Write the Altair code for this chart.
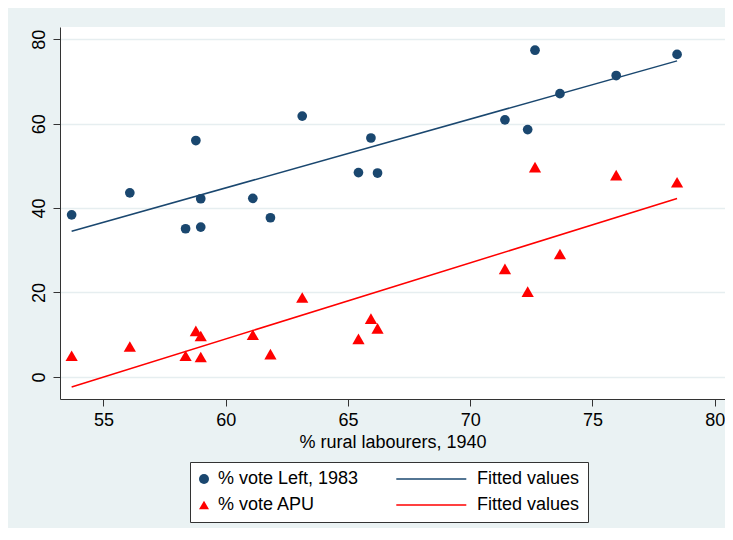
import altair as alt
import pandas as pd

# ---- data ----
rural = [53.70, 56.08, 58.36, 58.78, 58.98, 58.98, 61.11, 61.83, 63.13,
         65.43, 65.94, 66.21, 71.42, 72.35, 72.65, 73.67, 75.97, 78.46]
vote_left = [38.4, 43.6, 35.1, 56.0, 42.2, 35.5, 42.3, 37.7, 61.8,
             48.4, 56.6, 48.3, 60.9, 58.6, 77.4, 67.1, 71.4, 76.4]
vote_apu = [5.0, 7.2, 5.0, 10.9, 9.7, 4.7, 10.0, 5.4, 18.8,
            9.0, 13.8, 11.5, 25.6, 20.2, 49.7, 29.1, 47.8, 46.1]

series_names = ["% vote Left, 1983", "% vote APU"]
fit_names = ["Fitted values (Left)", "Fitted values (APU)"]
legend_order = [series_names[0], series_names[1], fit_names[0], fit_names[1]]

x_ticks = [55, 60, 65, 70, 75, 80]
y_ticks = [0, 20, 40, 60, 80]
x_title = "% rural labourers, 1940"

df = pd.DataFrame({
    "rural": rural + rural,
    "vote": vote_left + vote_apu,
    "series": [series_names[0]] * len(rural) + [series_names[1]] * len(rural),
})

FONT = "Liberation Sans"
NAVY = "#1a476f"
RED = "#ff0000"
BG = "#eaf2f3"
LINE_PATH = "M-13.34,-0.15H0.66V0.15H-13.34Z"

color_scale = alt.Scale(domain=legend_order, range=[NAVY, RED, NAVY, RED])
shape_scale = alt.Scale(domain=legend_order,
                        range=["circle", "triangle-up", LINE_PATH, LINE_PATH])

legend = alt.Legend(
    title=None, orient="none", legendX=130, legendY=435,
    columns=2, columnPadding=37, rowPadding=8, padding=8,
    fillColor="white", strokeColor="#333",
    labelFont=FONT, labelFontSize=18, labelColor="black",
    symbolSize=100, symbolOffset=-3, labelOffset=5, symbolStrokeWidth=0,
    labelExpr="indexof(datum.label, 'Fitted') == 0 ? 'Fitted values\u00a0\u00a0\u00a0' : datum.label",
)

x_enc = alt.X(
    "rural:Q",
    scale=alt.Scale(domain=[53.224, 80.42], nice=False, zero=False),
    axis=alt.Axis(values=x_ticks, title=x_title, grid=False,
                  domainColor="#333", domainWidth=1, tickColor="#333",
                  tickSize=7, tickWidth=1, labelFont=FONT, labelFontSize=18,
                  labelColor="black", labelPadding=5, titleFont=FONT,
                  titleFontSize=18, titleFontWeight="normal",
                  titleColor="black", titlePadding=4),
)
y_enc = alt.Y(
    "vote:Q",
    scale=alt.Scale(domain=[-5.24, 82.9], nice=False, zero=False),
    axis=alt.Axis(values=y_ticks, title=None, grid=True, gridColor="#e6eef0",
                  gridWidth=1.5, domainColor="#333", domainWidth=1,
                  tickColor="#333", tickSize=7, tickWidth=1, labelFont=FONT,
                  labelFontSize=18, labelColor="black", labelAngle=270,
                  labelAlign="center", labelBaseline="bottom", labelPadding=5),
)

base = alt.Chart(df)

circles = base.transform_filter(
    alt.datum.series == series_names[0]
).mark_point(filled=True, size=94, opacity=1).encode(
    x=x_enc, y=y_enc,
    color=alt.Color("series:N", scale=color_scale, legend=legend),
    shape=alt.Shape("series:N", scale=shape_scale, legend=legend),
)

triangles = base.transform_filter(
    alt.datum.series == series_names[1]
).mark_point(filled=True, size=150, opacity=1).encode(
    x=x_enc, y=y_enc,
    color=alt.Color("series:N", scale=color_scale, legend=None),
    shape=alt.Shape("series:N", scale=shape_scale, legend=None),
)

key_expr = (f"datum.series == '{series_names[0]}' ? '{fit_names[0]}' : '{fit_names[1]}'")
lines = base.transform_regression(
    "rural", "vote", groupby=["series"]
).transform_calculate(key=key_expr).mark_line(strokeWidth=1.5).encode(
    x=x_enc, y=y_enc,
    color=alt.Color("key:N", scale=color_scale, legend=None),
    detail="key:N",
)

chart = alt.layer(circles, triangles, lines).properties(
    width=665, height=372,
    padding={"left": 52, "top": 19, "right": 0, "bottom": 129},
    autosize=alt.AutoSizeParams(type="none"),
    background=BG,
).configure_view(fill="white", strokeWidth=0)

chart.save("out.html", embed_options={"renderer": "svg", "actions": False})
